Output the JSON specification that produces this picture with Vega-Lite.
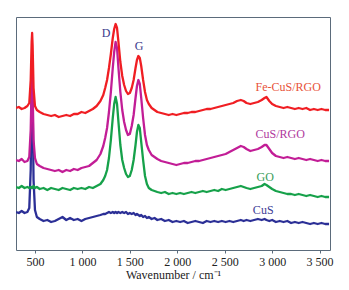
{
  "$schema": "https://vega.github.io/schema/vega-lite/v6.json",
  "width": 314,
  "height": 233,
  "autosize": {"type": "none"},
  "padding": {"left": 16, "top": 17, "right": 19, "bottom": 40},
  "background": "white",
  "config": {
    "view": {"stroke": "#5b6b7b", "strokeWidth": 1},
    "font": "Liberation Serif"
  },
  "datasets": {
    "spectra": [
      {"x":300,"r":142,"m":90,"g":63,"b":38},
      {"x":330,"r":143,"m":89,"g":62,"b":37},
      {"x":360,"r":141,"m":91,"g":64,"b":39},
      {"x":390,"r":142,"m":88,"g":62,"b":37},
      {"x":420,"r":144,"m":89,"g":63,"b":38},
      {"x":440,"r":147,"m":93,"g":62,"b":42},
      {"x":455,"r":170,"m":120,"g":63,"b":80},
      {"x":465,"r":208,"m":165,"g":62,"b":160},
      {"x":470,"r":217,"m":178,"g":63,"b":185},
      {"x":475,"r":205,"m":160,"g":62,"b":150},
      {"x":485,"r":162,"m":110,"g":64,"b":70},
      {"x":500,"r":144,"m":92,"g":62,"b":40},
      {"x":520,"r":140,"m":86,"g":63,"b":33},
      {"x":550,"r":138,"m":84,"g":61,"b":31},
      {"x":590,"r":136,"m":82,"g":62,"b":29},
      {"x":630,"r":135,"m":81,"g":60,"b":30},
      {"x":670,"r":134,"m":80,"g":62,"b":28},
      {"x":710,"r":135,"m":79,"g":61,"b":29},
      {"x":750,"r":133,"m":80,"g":60,"b":31},
      {"x":790,"r":134,"m":78,"g":62,"b":33},
      {"x":830,"r":135,"m":80,"g":61,"b":30},
      {"x":870,"r":134,"m":79,"g":60,"b":32},
      {"x":910,"r":136,"m":81,"g":62,"b":30},
      {"x":950,"r":136,"m":80,"g":61,"b":31},
      {"x":990,"r":138,"m":82,"g":62,"b":29},
      {"x":1030,"r":137,"m":83,"g":61,"b":31},
      {"x":1070,"r":139,"m":84,"g":63,"b":32},
      {"x":1110,"r":141,"m":87,"g":62,"b":33},
      {"x":1150,"r":144,"m":90,"g":64,"b":34},
      {"x":1190,"r":149,"m":96,"g":66,"b":35},
      {"x":1220,"r":155,"m":104,"g":70,"b":36},
      {"x":1240,"r":162,"m":112,"g":74,"b":36},
      {"x":1260,"r":170,"m":122,"g":80,"b":37},
      {"x":1280,"r":182,"m":138,"g":92,"b":38},
      {"x":1300,"r":196,"m":158,"g":110,"b":37},
      {"x":1320,"r":212,"m":182,"g":132,"b":38},
      {"x":1335,"r":221,"m":198,"g":146,"b":37},
      {"x":1350,"r":226,"m":208,"g":153,"b":38},
      {"x":1365,"r":222,"m":202,"g":146,"b":37},
      {"x":1380,"r":208,"m":182,"g":128,"b":38},
      {"x":1400,"r":188,"m":158,"g":105,"b":37},
      {"x":1420,"r":174,"m":140,"g":90,"b":38},
      {"x":1440,"r":165,"m":128,"g":82,"b":37},
      {"x":1460,"r":159,"m":120,"g":76,"b":38},
      {"x":1480,"r":156,"m":115,"g":73,"b":36},
      {"x":1500,"r":157,"m":116,"g":74,"b":37},
      {"x":1520,"r":162,"m":124,"g":80,"b":36},
      {"x":1540,"r":170,"m":135,"g":90,"b":37},
      {"x":1560,"r":182,"m":152,"g":105,"b":35},
      {"x":1575,"r":190,"m":164,"g":118,"b":36},
      {"x":1590,"r":194,"m":170,"g":125,"b":35},
      {"x":1605,"r":192,"m":166,"g":122,"b":34},
      {"x":1620,"r":184,"m":152,"g":108,"b":35},
      {"x":1640,"r":170,"m":132,"g":90,"b":33},
      {"x":1660,"r":158,"m":115,"g":74,"b":34},
      {"x":1680,"r":150,"m":105,"g":66,"b":32},
      {"x":1700,"r":146,"m":100,"g":62,"b":33},
      {"x":1730,"r":142,"m":95,"g":60,"b":31},
      {"x":1760,"r":140,"m":93,"g":59,"b":32},
      {"x":1790,"r":138,"m":91,"g":58,"b":30},
      {"x":1830,"r":137,"m":89,"g":57,"b":31},
      {"x":1870,"r":136,"m":88,"g":58,"b":29},
      {"x":1910,"r":135,"m":87,"g":56,"b":30},
      {"x":1950,"r":136,"m":86,"g":57,"b":28},
      {"x":1990,"r":135,"m":85,"g":56,"b":29},
      {"x":2030,"r":136,"m":86,"g":57,"b":28},
      {"x":2070,"r":137,"m":87,"g":56,"b":29},
      {"x":2110,"r":137,"m":87,"g":57,"b":27},
      {"x":2150,"r":138,"m":88,"g":58,"b":28},
      {"x":2190,"r":138,"m":89,"g":57,"b":29},
      {"x":2230,"r":139,"m":89,"g":58,"b":28},
      {"x":2270,"r":140,"m":90,"g":59,"b":27},
      {"x":2310,"r":141,"m":91,"g":58,"b":29},
      {"x":2350,"r":141,"m":92,"g":59,"b":28},
      {"x":2390,"r":142,"m":93,"g":60,"b":29},
      {"x":2430,"r":143,"m":94,"g":59,"b":28},
      {"x":2470,"r":144,"m":95,"g":61,"b":29},
      {"x":2510,"r":145,"m":96,"g":60,"b":28},
      {"x":2550,"r":146,"m":98,"g":61,"b":29},
      {"x":2590,"r":147,"m":100,"g":62,"b":28},
      {"x":2630,"r":149,"m":102,"g":63,"b":29},
      {"x":2670,"r":150,"m":104,"g":64,"b":30},
      {"x":2700,"r":149,"m":103,"g":63,"b":29},
      {"x":2730,"r":147,"m":101,"g":62,"b":30},
      {"x":2770,"r":146,"m":99,"g":61,"b":29},
      {"x":2810,"r":147,"m":100,"g":62,"b":30},
      {"x":2850,"r":148,"m":101,"g":63,"b":31},
      {"x":2890,"r":150,"m":103,"g":64,"b":30},
      {"x":2920,"r":152,"m":105,"g":66,"b":31},
      {"x":2940,"r":153,"m":105,"g":65,"b":30},
      {"x":2970,"r":149,"m":101,"g":63,"b":29},
      {"x":3000,"r":146,"m":97,"g":61,"b":30},
      {"x":3040,"r":144,"m":94,"g":59,"b":28},
      {"x":3080,"r":143,"m":93,"g":58,"b":29},
      {"x":3120,"r":142,"m":92,"g":57,"b":28},
      {"x":3160,"r":143,"m":93,"g":56,"b":29},
      {"x":3200,"r":142,"m":92,"g":56,"b":27},
      {"x":3240,"r":141,"m":91,"g":55,"b":28},
      {"x":3280,"r":142,"m":92,"g":56,"b":27},
      {"x":3320,"r":141,"m":91,"g":55,"b":28},
      {"x":3360,"r":142,"m":90,"g":54,"b":27},
      {"x":3400,"r":140,"m":91,"g":55,"b":26},
      {"x":3440,"r":141,"m":90,"g":54,"b":27},
      {"x":3480,"r":140,"m":89,"g":53,"b":26},
      {"x":3520,"r":141,"m":90,"g":54,"b":27},
      {"x":3560,"r":140,"m":89,"g":53,"b":26},
      {"x":3600,"r":140,"m":89,"g":53,"b":26}
    ],
    "labels": [
      {"label":"D","x":1249,"y":217,"c":"#3b3b8c"},
      {"label":"G","x":1597,"y":204,"c":"#3b3b8c"},
      {"label":"Fe-CuS/RGO","x":3169,"y":163,"c":"#e8533a"},
      {"label":"CuS/RGO","x":3085,"y":116,"c":"#b03a9e"},
      {"label":"GO","x":2927,"y":73,"c":"#3a9e5a"},
      {"label":"CuS","x":2906,"y":40,"c":"#3c3c96"}
    ]
  },
  "layer": [
    {
      "data": {"name": "spectra"},
      "transform": [{"fold": ["b","g","m","r"], "as": ["series","intensity"]}],
      "mark": {"type": "line", "strokeWidth": 2.3, "clip": true, "strokeJoin": "round"},
      "encoding": {
        "x": {
          "field": "x", "type": "quantitative",
          "scale": {"domain": [300, 3610], "nice": false, "zero": false},
          "axis": {
            "values": [500,750,1000,1250,1500,1750,2000,2250,2500,2750,3000,3250,3500],
            "labelExpr": "datum.value % 500 == 0 ? replace(format(datum.value, ','), ',', ' ') : ''",
            "title": "Wavenumber / cm⁻¹",
            "titleFont": "Liberation Serif",
            "titleFontWeight": "normal",
            "titleFontSize": 12,
            "titleColor": "#222222",
            "titlePadding": 2,
            "labelFont": "Liberation Serif",
            "labelFontSize": 12,
            "labelColor": "#222222",
            "labelPadding": 3,
            "labelOverlap": false,
            "labelFlush": false,
            "tickSize": 3,
            "tickColor": "#5b6b7b",
            "domain": false,
            "grid": false
          }
        },
        "y": {
          "field": "intensity", "type": "quantitative",
          "scale": {"domain": [0, 233], "nice": false},
          "axis": null
        },
        "color": {
          "field": "series", "type": "nominal",
          "scale": {"domain": ["b","g","m","r"], "range": ["#2b2f96","#16a14a","#c21d96","#f01e23"]},
          "legend": null
        }
      }
    },
    {
      "data": {"name": "labels"},
      "mark": {"type": "text", "font": "Liberation Serif", "fontSize": 12, "align": "center", "baseline": "middle"},
      "encoding": {
        "x": {"field": "x", "type": "quantitative"},
        "y": {"field": "y", "type": "quantitative"},
        "text": {"field": "label"},
        "color": {"field": "c", "type": "nominal", "scale": null}
      }
    }
  ]
}
